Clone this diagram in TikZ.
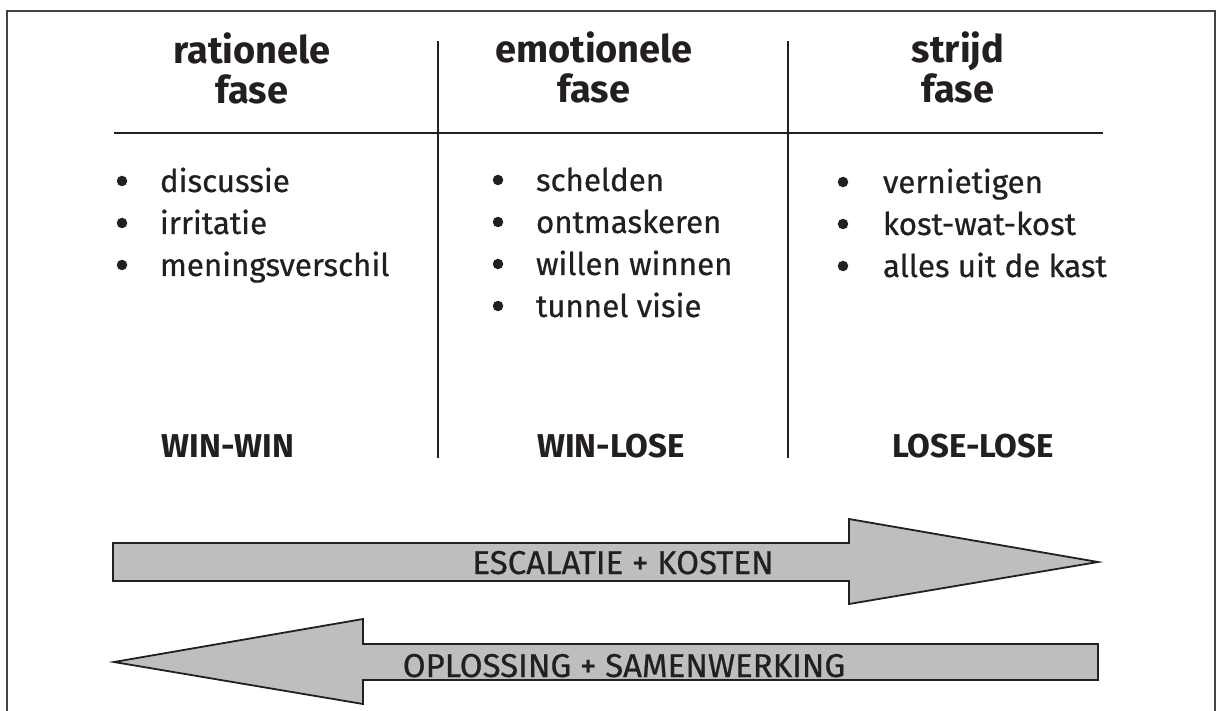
\documentclass[tikz,border=0pt]{standalone}
\usepackage{fontspec}
\setmainfont{Fira Sans}
\newfontfamily\bodyfont{Fira Sans}[FakeBold=0.6]
\definecolor{ink}{HTML}{231F20}
\definecolor{arrowgray}{HTML}{BCBEC0}
\begin{document}
\begin{tikzpicture}[x=1pt,y=-1pt,
  every node/.style={inner sep=0pt,outer sep=0pt,text=ink},
  headtxt/.style={anchor=base,font=\fontsize{38}{42}\selectfont\bfseries},
  itemtxt/.style={anchor=base west,font=\bodyfont\fontsize{31.3}{36}\selectfont},
  outcome/.style={anchor=base,font=\fontsize{33}{36}\selectfont\bfseries},
  arrowtxt/.style={anchor=base,font=\bodyfont\fontsize{33}{38}\selectfont},
  dot/.style={circle,fill=ink,minimum size=10.5pt},
  rule/.style={draw=ink,line width=2.6pt},
  bigarrow/.style={draw=ink,fill=arrowgray,line width=1.8pt,line join=miter}]
\useasboundingbox (0,0) rectangle (1220,711);
% outer frame, open at the bottom
\draw[draw=ink!85,line width=1.5pt] (7,711) -- (7,11) -- (1215,11) -- (1215,711);

% column dividers and header rule
\coordinate (r1) at (114,133);
\coordinate (r2) at (1103,133);
\coordinate (v1t) at (438,41);
\coordinate (v1b) at (438,458);
\coordinate (v2t) at (788,41);
\coordinate (v2b) at (788,458);
\draw[rule] (r1) -- (r2);
\draw[rule,line width=2.6pt] (v1t) -- (v1b);
\draw[rule,line width=2.6pt] (v2t) -- (v2b);

% headers
\node[headtxt] (h1a) at (252,64) {rationele};
\node[headtxt] (h1b) at (252,104) {fase};
\node[headtxt] (h2a) at (594,63) {emotionele};
\node[headtxt] (h2b) at (594,103) {fase};
\node[headtxt] (h3a) at (958,63) {strijd};
\node[headtxt] (h3b) at (958,103) {fase};

% first column
\node[dot] (d11) at (122,181) {};
\node[dot] (d12) at (122,223) {};
\node[dot] (d13) at (122,265) {};
\node[itemtxt] (t11) at (160,192) {discussie};
\node[itemtxt] (t12) at (160,234) {irritatie};
\node[itemtxt] (t13) at (160,276) {meningsverschil};

% second column
\node[dot] (d21) at (498,180) {};
\node[dot] (d22) at (498,222) {};
\node[dot] (d23) at (498,264) {};
\node[dot] (d24) at (498,306) {};
\node[itemtxt] (t21) at (536,191) {schelden};
\node[itemtxt] (t22) at (536,233) {ontmaskeren};
\node[itemtxt] (t23) at (536,275) {willen winnen};
\node[itemtxt] (t24) at (536,317) {tunnel visie};

% third column
\node[dot] (d31) at (843,182) {};
\node[dot] (d32) at (843,224) {};
\node[dot] (d33) at (843,266) {};
\node[itemtxt] (t31) at (883,193) {vernietigen};
\node[itemtxt] (t32) at (883,235) {kost-wat-kost};
\node[itemtxt] (t33) at (883,277) {alles uit de kast};

% outcomes
\node[outcome] (o1) at (228,457) {WIN-WIN};
\node[outcome] (o2) at (611,457) {WIN-LOSE};
\node[outcome] (o3) at (973,457) {LOSE-LOSE};

% escalation arrow (pointing right)
\draw[bigarrow] (113,543) -- (849,543) -- (849,519) -- (1098,562)
  -- (849,604) -- (849,581) -- (113,581) -- cycle;
\node[arrowtxt] (esc) at (623,574) {ESCALATIE + KOSTEN};

% resolution arrow (pointing left)
\draw[bigarrow] (114,662) -- (363,619) -- (363,644) -- (1098,644)
  -- (1098,680) -- (363,680) -- (363,704) -- cycle;
\node[arrowtxt] (sol) at (624,677) {OPLOSSING + SAMENWERKING};
\end{tikzpicture}
\end{document}
